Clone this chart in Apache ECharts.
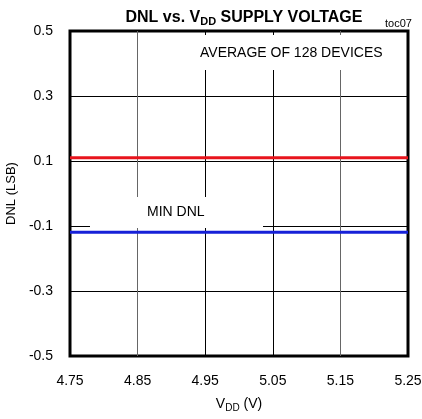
<!DOCTYPE html>
<html><head><meta charset="utf-8">
<script src="https://cdn.jsdelivr.net/npm/echarts@6/dist/echarts.min.js"></script>
<style>html,body{margin:0;padding:0;background:#fff}#c{width:422px;height:419px}</style>
</head><body><div id="c"></div>
<script>
const xTicks = [4.75, 4.85, 4.95, 5.05, 5.15, 5.25];
const yTicks = [-0.5, -0.3, -0.1, 0.1, 0.3, 0.5];
const avgDnlX = [4.75, 4.85, 4.95, 5.05, 5.15, 5.25];
const avgDnl = [0.11, 0.11, 0.11, 0.11, 0.11, 0.11];
const minDnlX = [4.75, 4.85, 4.95, 5.05, 5.15, 5.25];
const minDnl = [-0.119, -0.119, -0.119, -0.119, -0.119, -0.119];

const FONT = "'Liberation Sans', Arial, sans-serif";
const chart = echarts.init(document.getElementById('c'));
chart.setOption({
  animation: false,
  backgroundColor: '#fff',
  textStyle: { fontFamily: FONT },
  title: [{
    text: '{a|DNL vs. V}{s|DD}{a| SUPPLY VOLTAGE}',
    left: 239, top: 3, textAlign: 'center',
    textStyle: { rich: {
      a: { fontFamily: FONT, fontSize: 16, fontWeight: 'bold', color: '#000' },
      s: { fontFamily: FONT, fontSize: 11, fontWeight: 'bold', color: '#000', verticalAlign: 'bottom', padding: [8, 0, 0, 0] }
    } }
  }, {
    text: 'toc07', left: 380, top: 13,
    textStyle: { fontFamily: FONT, fontSize: 11, fontWeight: 'normal', color: '#000' }
  }],
  grid: { left: 70, right: 14, top: 31, bottom: 63, containLabel: false, outerBoundsMode: 'none', show: true, borderColor: '#000', borderWidth: 3, backgroundColor: 'transparent' },
  xAxis: {
    type: 'value', min: xTicks[0], max: xTicks[xTicks.length - 1], interval: 0.1,
    axisLine: { show: false }, axisTick: { show: false },
    axisLabel: { margin: 18, fontSize: 14, color: '#000', fontFamily: FONT, formatter: v => v.toFixed(2) },
    splitLine: { show: true, lineStyle: { color: ['#000', '#666', '#000', '#000', '#666', '#000'], width: 1 } },
    name: '{a|V}{s|DD}{a| (V)}', nameLocation: 'middle', nameGap: 40,
    nameTextStyle: { rich: {
      a: { fontFamily: FONT, fontSize: 14, color: '#000' },
      s: { fontFamily: FONT, fontSize: 10, color: '#000', verticalAlign: 'bottom', padding: [7, 0, 0, 0] }
    } }
  },
  yAxis: {
    type: 'value', min: yTicks[0], max: yTicks[yTicks.length - 1], interval: 0.2,
    axisLine: { show: false }, axisTick: { show: false },
    axisLabel: { margin: 17, fontSize: 14, color: '#000', fontFamily: FONT, formatter: v => v.toFixed(1) },
    splitLine: { show: true, lineStyle: { color: '#000', width: 1 } },
    name: 'DNL (LSB)', nameLocation: 'middle', nameGap: 51,
    nameTextStyle: { fontFamily: FONT, fontSize: 13, color: '#000' }
  },
  graphic: [
    { type: 'rect', z: 50, shape: { x: 196, y: 35, width: 196, height: 35 }, style: { fill: '#fff' } },
    { type: 'text', z: 51, left: 200, top: 46, style: { text: 'AVERAGE OF 128 DEVICES', font: '14px ' + FONT, fill: '#000' } },
    { type: 'rect', z: 50, shape: { x: 90, y: 197, width: 173, height: 31 }, style: { fill: '#fff' } },
    { type: 'text', z: 51, left: 147, top: 205, style: { text: 'MIN DNL', font: '14px ' + FONT, fill: '#000' } }
  ],
  series: [{
    type: 'line', data: avgDnlX.map((x, i) => [x, avgDnl[i]]), showSymbol: false, z: 60,
    lineStyle: { color: '#e8141c', width: 3 }
  }, {
    type: 'line', data: minDnlX.map((x, i) => [x, minDnl[i]]), showSymbol: false, z: 60,
    lineStyle: { color: '#1620d8', width: 3 }
  }]
});
</script></body></html>
